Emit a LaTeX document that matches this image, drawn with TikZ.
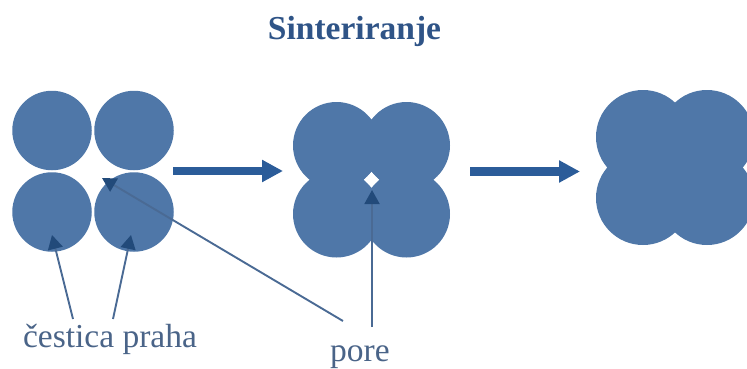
\documentclass[tikz,border=0pt]{standalone}
\usepackage{fontspec}
\setmainfont{Liberation Serif}
\usetikzlibrary{arrows.meta}
\definecolor{blob}{HTML}{4F77A8}
\definecolor{bigarrow}{HTML}{2B5C99}
\definecolor{thinarrow}{HTML}{4A6A94}
\definecolor{labeltext}{HTML}{4A6488}
\definecolor{titletext}{HTML}{2F5487}
\tikzset{
  particle/.style={circle,fill=blob,draw=none,inner sep=0pt,minimum size=#1},
  bigflow/.style={draw=bigarrow,line width=8.7pt,-{Triangle[length=21pt,width=21pt]}},
  pointer/.style={draw=thinarrow,line width=1.9pt,-{Triangle[length=14pt,width=15pt,color=bigarrow!80!black]}},
  cap label/.style={inner sep=0pt,anchor=base,text=labeltext,font=\fontsize{33.5pt}{36pt}\selectfont},
}
\begin{document}
\begin{tikzpicture}[x=1pt,y=-1pt]
\useasboundingbox (0,0) rectangle (747,369);
\clip (0,0) rectangle (747,369);
% stage 1
\node[particle=79.5pt] (a1) at (52,130.5) {};
\node[particle=79.5pt] (a2) at (134,130.5) {};
\node[particle=79.5pt] (a3) at (52,212) {};
\node[particle=79.5pt] (a4) at (134,212) {};
% stage 2
\fill[blob] (336.5,145.5) circle[radius=43.5] (406.5,145.5) circle[radius=43.5]
            (336.5,214) circle[radius=43.5] (406.5,214) circle[radius=43.5];
% core that hides the seams of the overlaps, the pore left open
\fill[blob,even odd rule]
  (371.5,119.7) -- (406.5,145.5) -- (433.3,179.75) -- (406.5,214) -- (371.5,239.8)
  -- (336.5,214) -- (309.7,179.75) -- (336.5,145.5) -- cycle
  (371.5,171.3) -- (379.7,179.75) -- (371.5,188.2) -- (363.3,179.75) -- cycle;
% stage 3
\fill[blob] (643,137) circle[radius=47] (707,137) circle[radius=47]
            (643,198) circle[radius=47] (707,198) circle[radius=47];
\fill[blob]
  (675,102.6) -- (707,137) -- (742.8,167.5) -- (707,198) -- (675,232.4)
  -- (643,198) -- (607.2,167.5) -- (643,137) -- cycle;
% labels
\node[cap label,text=titletext,font=\fontsize{33.5pt}{36pt}\selectfont\bfseries] (title) at (354.5,40) {Sinteriranje};
\node[cap label] (dust) at (110,347) {čestica praha};
\node[cap label] (pore) at (360,361.5) {pore};
% connector ends
\coordinate (f1s) at (173,171);
\coordinate (f1e) at (283,171);
\coordinate (f2s) at (470,171.5);
\coordinate (f2e) at (580,171.5);
\coordinate (p1s) at (73,319);
\coordinate (p1e) at (52,235);
\coordinate (p2s) at (113,319);
\coordinate (p2e) at (131,235);
\coordinate (p3s) at (343,321);
\coordinate (p3e) at (102,178);
\coordinate (p4s) at (372,327);
\coordinate (p4e) at (372,190);
% connectors
\draw[bigflow] (f1s) -- (f1e);
\draw[bigflow] (f2s) -- (f2e);
\draw[pointer] (p1s) -- (p1e);
\draw[pointer] (p2s) -- (p2e);
\draw[pointer] (p3s) -- (p3e);
\draw[pointer] (p4s) -- (p4e);
\end{tikzpicture}
\end{document}
